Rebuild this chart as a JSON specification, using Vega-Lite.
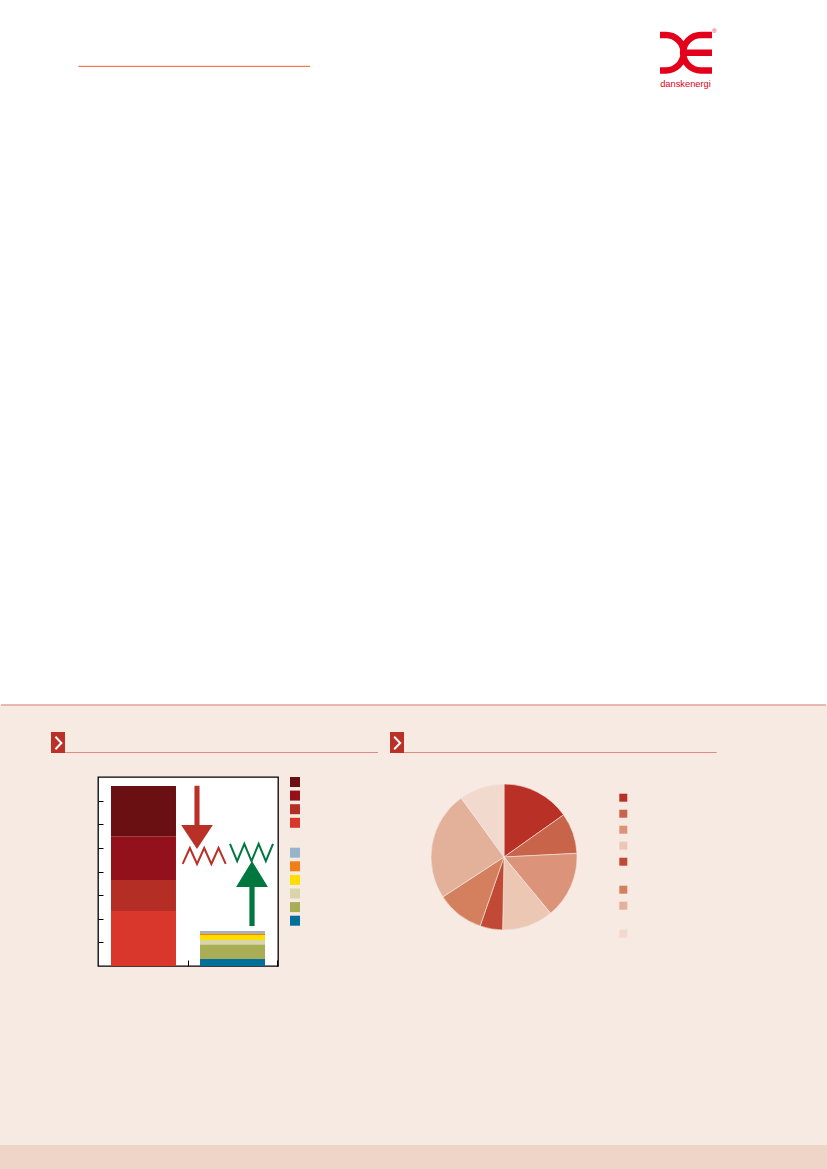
{
  "$schema": "https://vega.github.io/schema/vega-lite/v6.json",
  "background": "#f7eae2",
  "padding": 0,
  "columns": 5,
  "spacing": 0,
  "bounds": "flush",
  "align": "each",
  "resolve": {"scale": {"color": "independent", "fill": "independent"}, "legend": {"color": "independent", "fill": "independent"}},
  "config": {"view": {"stroke": null}},
  "datasets": {
    "energi": [
      {"aar": "I dag", "kilde": "Kul", "vaerdi": 2.13},
      {"aar": "I dag", "kilde": "Naturgas", "vaerdi": 1.85},
      {"aar": "I dag", "kilde": "Olie", "vaerdi": 1.31},
      {"aar": "I dag", "kilde": "Transportbrændsel", "vaerdi": 2.33},
      {"aar": "2050", "kilde": "Bølgekraft", "vaerdi": 0.10},
      {"aar": "2050", "kilde": "Geotermi", "vaerdi": 0.07},
      {"aar": "2050", "kilde": "Solenergi", "vaerdi": 0.21},
      {"aar": "2050", "kilde": "Træ og halm", "vaerdi": 0.19},
      {"aar": "2050", "kilde": "Vindkraft", "vaerdi": 0.61},
      {"aar": "2050", "kilde": "Øvrig VE", "vaerdi": 0.30}
    ],
    "fordeling": [
      {"sektor": "Boliger", "andel": 15.2},
      {"sektor": "Erhverv", "andel": 9.0},
      {"sektor": "Fjernvarme", "andel": 14.8},
      {"sektor": "Industri", "andel": 11.3},
      {"sektor": "Landbrug", "andel": 5.0},
      {"sektor": "Offentlig sektor", "andel": 10.5},
      {"sektor": "Transport", "andel": 24.2},
      {"sektor": "Øvrigt", "andel": 10.0}
    ]
  },
  "concat": [
    {"width": 98, "height": 705, "view": {"fill": "white"}, "data": {"values": []}, "mark": "point"},
    {"width": 180, "height": 705, "view": {"fill": "white"}, "data": {"values": []}, "mark": "point"},
    {"width": 153, "height": 705, "view": {"fill": "white"}, "data": {"values": []}, "mark": "point"},
    {"width": 146, "height": 705, "view": {"fill": "white"}, "data": {"values": []}, "mark": "point"},
    {
      "width": 250, "height": 705, "view": {"fill": "white"},
      "data": {"values": [{}]},
      "layer": [
        {"mark": {"type": "rule", "color": "#e5805b", "strokeWidth": 1.3},
         "encoding": {"x": {"value": -498.7}, "x2": {"value": -267}, "y": {"value": 66.3}}},
        {"mark": {"type": "point", "shape": "M-1,-0.68 L-0.77,-0.68 A0.68,0.68 0 0 1 -0.77,0.68 L-1,0.68 M1,-0.68 L0.57,-0.68 A0.68,0.68 0 0 0 0.57,0.68 L1,0.68 M-0.11,0 L1,0", "size": 2704, "x": 109, "y": 52.7, "filled": false, "stroke": "#e2001a", "strokeWidth": 6.5, "strokeCap": "butt", "opacity": 1}, "encoding": {}},
        {"mark": {"type": "text", "text": "danskenergi", "x": 108.5, "y": 84, "fontSize": 9.3, "font": "Liberation Sans", "color": "#e2001a", "align": "center", "baseline": "middle"}, "encoding": {}},
        {"mark": {"type": "text", "text": "®", "x": 137.5, "y": 31, "fontSize": 6, "font": "Liberation Sans", "color": "#e2001a", "align": "center", "baseline": "middle"}, "encoding": {}}
      ]
    },
    {
      "width": 98, "height": 72,
      "data": {"values": [{}]},
      "layer": [
        {"mark": {"type": "rule", "color": "#e3a29b", "strokeWidth": 1.4},
         "encoding": {"x": {"value": 1}, "x2": {"value": 826}, "y": {"value": 0}}},
        {"mark": {"type": "rect", "x": 51, "x2": 65, "y": 27, "y2": 48, "color": "#b93127"}, "encoding": {}},
        {"mark": {"type": "point", "shape": "M-0.46,-0.97 L0.46,0 L-0.46,0.97", "size": 169, "x": 58.4, "y": 38, "filled": false, "stroke": "white", "strokeWidth": 2, "opacity": 1}, "encoding": {}},
        {"mark": {"type": "rule", "color": "#df8b82", "strokeWidth": 1},
         "encoding": {"x": {"value": 65}, "x2": {"value": 378}, "y": {"value": 47.5}}},
        {"mark": {"type": "rect", "x": 390, "x2": 404, "y": 27, "y2": 48, "color": "#b93127"}, "encoding": {}},
        {"mark": {"type": "point", "shape": "M-0.46,-0.97 L0.46,0 L-0.46,0.97", "size": 169, "x": 397.2, "y": 38, "filled": false, "stroke": "white", "strokeWidth": 2, "opacity": 1}, "encoding": {}},
        {"mark": {"type": "rule", "color": "#df8b82", "strokeWidth": 1},
         "encoding": {"x": {"value": 404}, "x2": {"value": 716.7}, "y": {"value": 47.5}}}
      ]
    },
    {"width": 180, "height": 72, "data": {"values": []}, "mark": "point"},
    {"width": 153, "height": 72, "data": {"values": []}, "mark": "point"},
    {"width": 146, "height": 72, "data": {"values": []}, "mark": "point"},
    {"width": 250, "height": 72, "data": {"values": []}, "mark": "point"},
    {"width": 98, "height": 189, "data": {"values": []}, "mark": "point"},
    {
      "width": 180, "height": 189,
      "view": {"fill": "white", "stroke": "#000000", "strokeWidth": 1.3},
      "layer": [
        {
          "data": {"name": "energi"},
          "transform": [{"filter": "datum.aar == 'I dag'"}],
          "mark": {"type": "bar"},
          "encoding": {
            "x": {"field": "aar", "type": "nominal", "sort": ["I dag", "2050"],
                  "scale": {"domain": ["I dag", "2050"], "paddingInner": 0.27, "paddingOuter": 0.146},
                  "axis": {"title": null, "labels": false, "domain": false, "grid": false, "tickOffset": 44.5, "tickSize": -6, "tickColor": "#000000", "tickWidth": 1}},
            "y": {"field": "vaerdi", "type": "quantitative", "stack": "zero",
                  "scale": {"domain": [0, 8], "nice": false},
                  "axis": {"title": null, "labels": false, "domain": false, "grid": false, "values": [1, 2, 3, 4, 5, 6, 7], "tickSize": -5, "tickColor": "#000000", "tickWidth": 1}},
            "color": {"field": "kilde", "type": "nominal",
                      "scale": {"domain": ["Kul", "Naturgas", "Olie", "Transportbrændsel"],
                                "range": ["#6a0f12", "#93111a", "#b52e25", "#d9372b"]},
                      "legend": {"orient": "none", "legendX": 192, "legendY": 0, "title": null, "padding": 0,
                                 "symbolType": "square", "symbolSize": 100, "symbolStrokeWidth": 0,
                                 "labelFontSize": 8, "labelBaseline": "top", "rowPadding": 0.6,
                                 "labelExpr": "'\u00a0'"}},
            "order": {"field": "kilde", "sort": "descending"}
          }
        },
        {
          "data": {"name": "energi"},
          "transform": [{"filter": "datum.aar == '2050'"}],
          "mark": {"type": "bar"},
          "encoding": {
            "x": {"field": "aar", "type": "nominal", "sort": ["I dag", "2050"],
                  "scale": {"domain": ["I dag", "2050"], "paddingInner": 0.27, "paddingOuter": 0.146},
                  "axis": {"title": null, "labels": false, "domain": false, "grid": false, "tickOffset": 44.5, "tickSize": -6, "tickColor": "#000000", "tickWidth": 1}},
            "y": {"field": "vaerdi", "type": "quantitative", "stack": "zero",
                  "scale": {"domain": [0, 8], "nice": false},
                  "axis": {"title": null, "labels": false, "domain": false, "grid": false, "values": [1, 2, 3, 4, 5, 6, 7], "tickSize": -5, "tickColor": "#000000", "tickWidth": 1}},
            "fill": {"field": "kilde", "type": "nominal",
                     "scale": {"domain": ["Bølgekraft", "Geotermi", "Solenergi", "Træ og halm", "Vindkraft", "Øvrig VE"],
                               "range": ["#98b4cb", "#f07f17", "#ffdd00", "#d9d5a8", "#a9ad55", "#00709a"]},
                     "legend": {"orient": "none", "legendX": 192, "legendY": 70.7, "title": null, "padding": 0,
                                "symbolType": "square", "symbolSize": 100, "symbolStrokeWidth": 0,
                                "labelFontSize": 8, "labelBaseline": "top", "rowPadding": 0.6,
                                "labelExpr": "'\u00a0'"}},
            "order": {"field": "kilde", "sort": "descending"}
          }
        },
        {"data": {"values": [{}]}, "mark": {"type": "point", "shape": "M-0.08,-1 L0.08,-1 L0.08,0.24 L0.5,0.24 L0,1 L-0.5,0.24 L-0.08,0.24 Z", "size": 4007, "x": 99, "y": 40.4, "filled": true, "color": "#b83026", "strokeWidth": 0, "opacity": 1}, "encoding": {}},
        {"data": {"values": [{}]}, "mark": {"type": "point", "shape": "M-1,0.37 L-0.667,-0.37 L-0.333,0.37 L0,-0.37 L0.333,0.37 L0.667,-0.37 L1,0.37", "size": 1849, "x": 106.2, "y": 79, "filled": false, "stroke": "#b83026", "strokeWidth": 2, "strokeJoin": "miter", "opacity": 1}, "encoding": {}},
        {"data": {"values": [{}]}, "mark": {"type": "point", "shape": "M-1,-0.4 L-0.667,0.4 L-0.333,-0.4 L0,0.4 L0.333,-0.4 L0.667,0.4 L1,-0.4", "size": 1849, "x": 153.5, "y": 75.5, "filled": false, "stroke": "#00773e", "strokeWidth": 2, "strokeJoin": "miter", "opacity": 1}, "encoding": {}},
        {"data": {"values": [{}]}, "mark": {"type": "point", "shape": "M0,-1 L0.49,-0.2 L0.08,-0.2 L0.08,1 L-0.08,1 L-0.08,-0.2 L-0.49,-0.2 Z", "size": 4225, "x": 154, "y": 116.5, "filled": true, "color": "#00773e", "strokeWidth": 0, "opacity": 1}, "encoding": {}}
      ]
    },
    {"width": 153, "height": 189, "data": {"values": []}, "mark": "point"},
    {
      "width": 146, "height": 160,
      "data": {"name": "fordeling"},
      "mark": {"type": "arc", "outerRadius": 73, "stroke": "#f7eae2", "strokeWidth": 0.6},
      "encoding": {
        "theta": {"field": "andel", "type": "quantitative", "stack": true},
        "color": {"field": "sektor", "type": "nominal",
                  "scale": {"domain": ["Boliger", "Erhverv", "Fjernvarme", "Industri", "Landbrug", "Offentlig sektor", "Transport", "Øvrigt"],
                            "range": ["#b83026", "#c8644a", "#db9479", "#ecc7b4", "#c04a35", "#d4805f", "#e3b09a", "#f2d9cd"]},
                  "legend": {"orient": "none", "legendX": 187.3, "legendY": 15.7, "title": null, "padding": 0,
                             "symbolType": "square", "symbolSize": 64, "symbolStrokeWidth": 0,
                             "labelFontSize": 10, "labelBaseline": "top", "rowPadding": 1,
                             "labelExpr": "(datum.label == 'Landbrug' || datum.label == 'Transport') ? ['\u00a0', '\u00a0'] : '\u00a0'"}},
        "order": {"field": "sektor", "sort": "ascending"}
      }
    },
    {"width": 250, "height": 189, "data": {"values": []}, "mark": "point"},
    {"width": 98, "height": 179, "data": {"values": []}, "mark": "point"},
    {"width": 180, "height": 179, "data": {"values": []}, "mark": "point"},
    {"width": 153, "height": 179, "data": {"values": []}, "mark": "point"},
    {"width": 146, "height": 179, "data": {"values": []}, "mark": "point"},
    {"width": 250, "height": 179, "data": {"values": []}, "mark": "point"},
    {"width": 98, "height": 24, "view": {"fill": "#efd5c8"}, "data": {"values": []}, "mark": "point"},
    {"width": 180, "height": 24, "view": {"fill": "#efd5c8"}, "data": {"values": []}, "mark": "point"},
    {"width": 153, "height": 24, "view": {"fill": "#efd5c8"}, "data": {"values": []}, "mark": "point"},
    {"width": 146, "height": 24, "view": {"fill": "#efd5c8"}, "data": {"values": []}, "mark": "point"},
    {"width": 250, "height": 24, "view": {"fill": "#efd5c8"}, "data": {"values": []}, "mark": "point"}
  ]
}
